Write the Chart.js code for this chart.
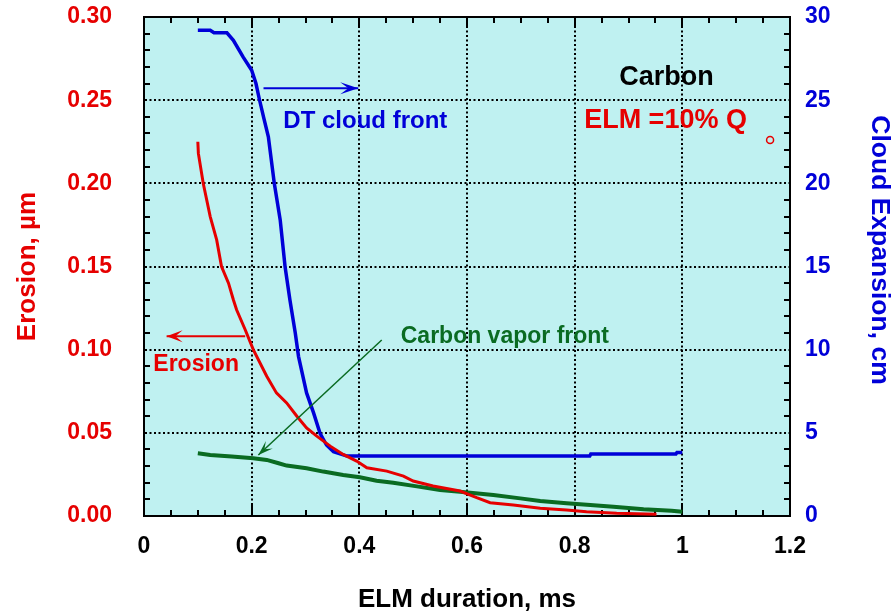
<!DOCTYPE html>
<html>
<head>
<meta charset="utf-8">
<script src="https://cdn.jsdelivr.net/npm/chart.js@4.4.1/dist/chart.umd.min.js"></script>
<style>
  html, body { margin: 0; padding: 0; background: #ffffff; }
  canvas { display: block; }
</style>
</head>
<body>
<canvas id="chart" width="894" height="613"></canvas>
<script>
// ELM duration (ms) and erosion depth (µm)
const erosionX = [0.100, 0.101, 0.110, 0.123, 0.135, 0.144, 0.157, 0.166, 0.172, 0.188,
                  0.203, 0.228, 0.246, 0.265, 0.284, 0.302, 0.321, 0.346, 0.370, 0.395,
                  0.414, 0.451, 0.482, 0.500, 0.537, 0.587, 0.618, 0.643, 0.686, 0.736,
                  0.785, 0.822, 0.878, 0.952];
const erosionUm = [0.225, 0.218, 0.200, 0.180, 0.166, 0.150, 0.140, 0.130, 0.124, 0.112,
                   0.100, 0.084, 0.074, 0.068, 0.060, 0.053, 0.048, 0.042, 0.037, 0.033,
                   0.029, 0.027, 0.024, 0.021, 0.018, 0.015, 0.011, 0.008, 0.0066, 0.0046,
                   0.0036, 0.0026, 0.0016, 0.0010];

// DT cloud front position (cm)
const cloudX = [0.100, 0.123, 0.130, 0.154, 0.166, 0.184, 0.200, 0.208, 0.214, 0.222,
                0.231, 0.242, 0.253, 0.262, 0.271, 0.281, 0.287, 0.302, 0.315, 0.327,
                0.339, 0.352, 0.377, 0.828, 0.830, 0.988, 0.990, 1.000];
const cloudCm = [29.2, 29.2, 29.05, 29.05, 28.6, 27.6, 26.8, 26.0, 25.1, 24.0,
                 22.8, 20.0, 17.8, 15.0, 13.0, 11.0, 9.6, 7.4, 6.2, 4.97,
                 4.27, 3.87, 3.6, 3.6, 3.72, 3.72, 3.82, 3.82];

// Carbon vapor front position (cm)
const vaporX = [0.100, 0.123, 0.163, 0.203, 0.228, 0.250, 0.265, 0.302, 0.333, 0.370,
                0.401, 0.432, 0.463, 0.507, 0.550, 0.587, 0.649, 0.699, 0.736, 0.785,
                0.829, 0.872, 0.928, 0.980, 1.000];
const vaporCm = [3.77, 3.67, 3.57, 3.47, 3.37, 3.17, 3.03, 2.87, 2.67, 2.47,
                 2.33, 2.12, 2.00, 1.78, 1.56, 1.46, 1.26, 1.06, 0.90, 0.76,
                 0.66, 0.56, 0.40, 0.32, 0.26];

// lone open-circle marker
const markerX = [1.163];
const markerUm = [0.226];

// axis tick labels
const xTickLabels = ['0', '0.2', '0.4', '0.6', '0.8', '1', '1.2'];
const erosionTickLabels = ['0.00', '0.05', '0.10', '0.15', '0.20', '0.25', '0.30'];
const cloudTickLabels = ['0', '5', '10', '15', '20', '25', '30'];

const RED = '#e60000';
const BLUE = '#0000d8';
const GREEN = '#0a6b22';
const PANEL = '#bff1f1';
const FONT = '"Liberation Sans", Arial, sans-serif';
const CLEAR = 'rgba(0,0,0,0)';

const pairs = (xs, ys) => xs.map((x, i) => ({ x: x, y: ys[i] }));

// text notes and arrows, placed in axis units
const notes = [
  { text: 'Carbon', axis: 'y1', x: 0.883, y: 25.92, color: '#000000', size: 27, align: 'left' },
  { text: 'ELM =10% Q', axis: 'y1', x: 1.120, y: 23.33, color: RED, size: 27, align: 'right' },
  { text: 'DT cloud front', axis: 'y1', x: 0.2588, y: 23.33, color: BLUE, size: 24, align: 'left' },
  { text: 'Erosion', axis: 'y', x: 0.0173, y: 0.0874, color: RED, size: 23, align: 'left' },
  { text: 'Carbon vapor front', axis: 'y1', x: 0.4769, y: 10.42, color: GREEN, size: 23, align: 'left' }
];
const arrows = [
  { axis: 'y1', from: [0.222, 25.72], to: [0.398, 25.72], color: BLUE, width: 2, head: 18, half: 6 },
  { axis: 'y', from: [0.188, 0.108], to: [0.042, 0.108], color: RED, width: 2, head: 16, half: 6 },
  { axis: 'y1', from: [0.4416, 10.58], to: [0.2124, 3.67], color: GREEN, width: 1.5, head: 15, half: 5 }
];

const tickFont = { family: FONT, size: 23, weight: 'bold', lineHeight: 1 };
const titleFont = { family: FONT, size: 26, weight: 'bold', lineHeight: 1 };

// panel background, frame and inner minor ticks
const framePlugin = {
  id: 'frame',
  beforeDraw(chart) {
    const { ctx, chartArea: a } = chart;
    ctx.save();
    ctx.fillStyle = PANEL;
    ctx.fillRect(a.left, a.top, a.right - a.left, a.bottom - a.top);
    ctx.restore();
  },
  beforeDatasetsDraw(chart) {
    const { ctx, chartArea: a, scales } = chart;
    const x = scales.x, y = scales.y;
    ctx.save();
    ctx.strokeStyle = '#000000';
    ctx.lineWidth = 2;
    ctx.beginPath();
    for (let k = 0; k <= 24; k++) {
      const px = Math.round(x.getPixelForValue(k * 0.05));
      const len = (k % 4 === 0) ? 11 : 6;
      ctx.moveTo(px, a.bottom); ctx.lineTo(px, a.bottom - len);
      ctx.moveTo(px, a.top); ctx.lineTo(px, a.top + len);
    }
    for (let k = 1; k < 30; k++) {
      if (k % 5 === 0) continue;
      const py = Math.round(y.getPixelForValue(k * 0.01));
      ctx.moveTo(a.left, py); ctx.lineTo(a.left + 6, py);
      ctx.moveTo(a.right, py); ctx.lineTo(a.right - 6, py);
    }
    ctx.moveTo(a.left - 1, a.top); ctx.lineTo(a.right + 1, a.top);
    ctx.stroke();
    ctx.restore();
  }
};

function arrowHead(ctx, x1, y1, x2, y2, len, half, color) {
  const ang = Math.atan2(y2 - y1, x2 - x1);
  ctx.save();
  ctx.translate(x2, y2);
  ctx.rotate(ang);
  ctx.fillStyle = color;
  ctx.beginPath();
  ctx.moveTo(0, 0);
  ctx.lineTo(-len, -half);
  ctx.lineTo(-len * 0.55, 0);
  ctx.lineTo(-len, half);
  ctx.closePath();
  ctx.fill();
  ctx.restore();
}

const notesPlugin = {
  id: 'notes',
  afterDatasetsDraw(chart) {
    const { ctx, scales } = chart;
    const x = scales.x;
    ctx.save();
    arrows.forEach(ar => {
      const ys = scales[ar.axis];
      const x1 = x.getPixelForValue(ar.from[0]), y1 = ys.getPixelForValue(ar.from[1]);
      const x2 = x.getPixelForValue(ar.to[0]), y2 = ys.getPixelForValue(ar.to[1]);
      ctx.strokeStyle = ar.color;
      ctx.lineWidth = ar.width;
      ctx.beginPath();
      ctx.moveTo(x1, y1);
      ctx.lineTo(x2, y2);
      ctx.stroke();
      arrowHead(ctx, x1, y1, x2, y2, ar.head, ar.half, ar.color);
    });
    notes.forEach(n => {
      const ys = scales[n.axis];
      ctx.font = 'bold ' + n.size + 'px ' + FONT;
      ctx.fillStyle = n.color;
      ctx.textAlign = n.align;
      ctx.textBaseline = 'alphabetic';
      ctx.fillText(n.text, x.getPixelForValue(n.x), ys.getPixelForValue(n.y));
    });
    ctx.restore();
  },
  afterDraw(chart) {
    const { ctx } = chart;
    ctx.save();
    ctx.translate(879, 250);
    ctx.rotate(Math.PI / 2);
    ctx.font = 'bold 26.5px ' + FONT;
    ctx.fillStyle = BLUE;
    ctx.textAlign = 'center';
    ctx.textBaseline = 'middle';
    ctx.fillText('Cloud Expansion, cm', 0, 0);
    ctx.restore();
  }
};

new Chart(document.getElementById('chart'), {
  type: 'line',
  data: {
    datasets: [
      {
        label: 'Erosion',
        data: pairs(erosionX, erosionUm),
        yAxisID: 'y',
        borderColor: RED,
        borderWidth: 3,
        pointRadius: 0,
        tension: 0,
        fill: false
      },
      {
        label: 'DT cloud front',
        data: pairs(cloudX, cloudCm),
        yAxisID: 'y1',
        borderColor: BLUE,
        borderWidth: 3.5,
        pointRadius: 0,
        tension: 0,
        fill: false
      },
      {
        label: 'Carbon vapor front',
        data: pairs(vaporX, vaporCm),
        yAxisID: 'y1',
        borderColor: GREEN,
        borderWidth: 4,
        pointRadius: 0,
        tension: 0,
        fill: false
      },
      {
        type: 'scatter',
        label: 'marker',
        data: pairs(markerX, markerUm),
        yAxisID: 'y',
        showLine: false,
        pointRadius: 3.5,
        pointBorderWidth: 1.5,
        pointBorderColor: RED,
        pointBackgroundColor: CLEAR
      }
    ]
  },
  options: {
    responsive: false,
    animation: false,
    devicePixelRatio: 1,
    layout: { padding: { top: 17, left: 0, right: 0, bottom: 0 } },
    plugins: { legend: { display: false }, tooltip: { enabled: false } },
    scales: {
      x: {
        type: 'linear',
        position: 'bottom',
        min: 0,
        max: 1.2,
        afterFit: s => { s.height = 97; },
        ticks: {
          stepSize: 0.2,
          autoSkip: false,
          maxRotation: 0,
          padding: 4,
          color: '#000000',
          font: tickFont,
          callback: (v, i) => xTickLabels[i]
        },
        grid: { color: '#000000', lineWidth: 2, drawTicks: true, tickLength: 15, tickColor: CLEAR },
        border: { display: true, color: '#000000', width: 2, dash: [2, 2.5] },
        title: {
          display: true,
          text: 'ELM duration, ms',
          color: '#000000',
          font: titleFont,
          padding: { top: 0, bottom: 0 }
        }
      },
      y: {
        type: 'linear',
        position: 'left',
        min: 0,
        max: 0.3,
        afterFit: s => { s.width = 144; },
        ticks: {
          stepSize: 0.05,
          padding: 4,
          color: RED,
          font: tickFont,
          callback: (v, i) => erosionTickLabels[i]
        },
        grid: { color: '#000000', lineWidth: 2, drawTicks: true, tickLength: 28, tickColor: CLEAR },
        border: { display: true, color: '#000000', width: 2, dash: [2, 2.5] },
        title: {
          display: true,
          text: 'Erosion, µm',
          color: RED,
          font: titleFont,
          padding: { top: 15, bottom: 0 }
        }
      },
      y1: {
        type: 'linear',
        position: 'right',
        min: 0,
        max: 30,
        afterFit: s => { s.width = 104; },
        ticks: {
          stepSize: 5,
          padding: 4,
          color: BLUE,
          font: tickFont,
          callback: (v, i) => cloudTickLabels[i]
        },
        grid: { display: true, drawOnChartArea: false, color: CLEAR, drawTicks: true, tickLength: 11, tickColor: CLEAR },
        border: { display: true, color: '#000000', width: 2 }
      }
    }
  },
  plugins: [framePlugin, notesPlugin]
});
</script>
</body>
</html>
